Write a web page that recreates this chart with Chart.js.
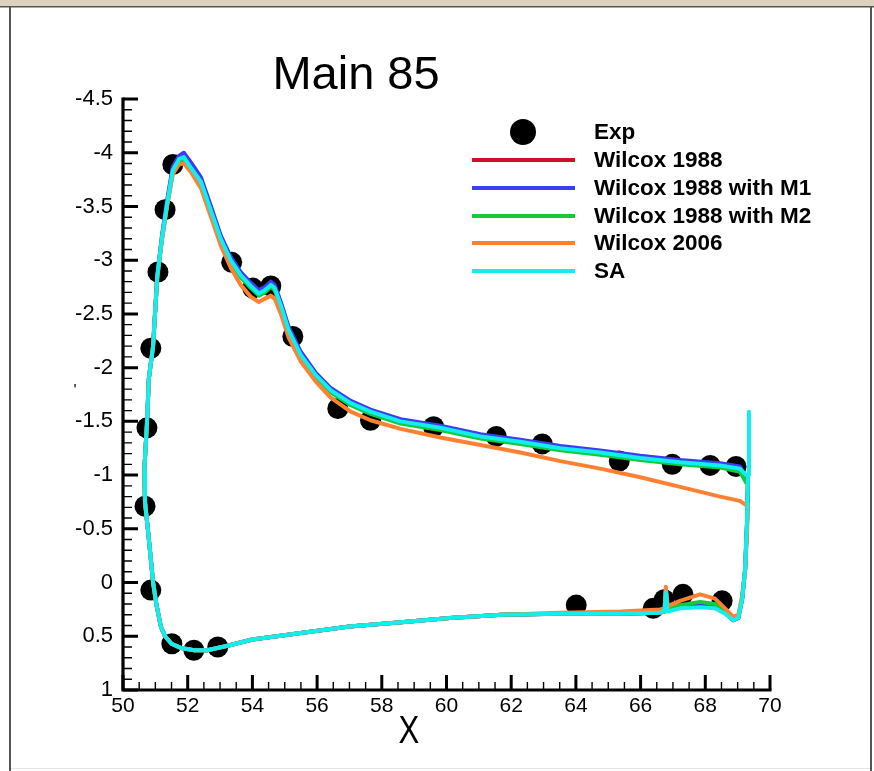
<!DOCTYPE html>
<html>
<head>
<meta charset="utf-8">
<title>Main 85</title>
<script src="https://cdn.jsdelivr.net/npm/chart.js@4.4.0/dist/chart.umd.min.js"></script>
<style>
  html, body { margin: 0; padding: 0; background: #fff; }
  canvas { display: block; }
</style>
</head>
<body>
<canvas id="cpChart" width="874" height="771"></canvas>
<script>
// surface path: trailing edge -> upper surface -> leading edge -> lower surface -> trailing edge
const xPath = [
  69.26, 69.07, 68.46, 67.22, 65.99, 64.75, 63.52, 62.28, 61.05, 59.81,
  58.58, 57.65, 57.04, 56.42, 55.96, 55.49, 55.12, 54.88, 54.69, 54.57,
  54.38, 54.20, 53.95, 53.64, 53.33, 53.02, 52.72, 52.41, 52.10, 51.88,
  51.73, 51.54, 51.36, 51.20, 51.06, 50.93, 50.80, 50.74, 50.66,
  50.68, 50.77, 50.85, 50.93, 51.03, 51.17, 51.30, 51.50, 51.80, 52.20,
  52.60, 53.20, 54.00, 55.50, 57.00, 58.60, 60.10, 61.70, 63.50, 65.40,
  66.60, 66.74, 66.78, 66.84, 67.22, 67.84, 68.30, 68.61, 68.86, 69.02,
  69.14, 69.23, 69.29, 69.32
];

const yWilcox1988 = [
  -0.97, -1.07, -1.10, -1.13, -1.17, -1.22, -1.26, -1.32, -1.37, -1.45,
  -1.51, -1.60, -1.68, -1.80, -1.94, -2.13, -2.36, -2.59, -2.75, -2.78,
  -2.73, -2.70, -2.77, -2.87, -3.01, -3.21, -3.47, -3.74, -3.88, -3.98,
  -3.95, -3.85, -3.53, -3.20, -2.85, -2.20, -1.90, -1.48, -1.05,
  -0.75, -0.49, -0.25, 0.00, 0.20, 0.41, 0.50, 0.57, 0.61, 0.63,
  0.63, 0.59, 0.53, 0.47, 0.41, 0.37, 0.33, 0.30, 0.29, 0.29,
  0.28, 0.27, 0.08, 0.26, 0.22, 0.20, 0.22, 0.28, 0.35, 0.33,
  0.15, -0.12, -0.55, -0.97
];

const yWilcoxM1 = [
  -0.98, -1.08, -1.11, -1.14, -1.18, -1.23, -1.27, -1.33, -1.38, -1.46,
  -1.52, -1.61, -1.69, -1.81, -1.95, -2.15, -2.38, -2.61, -2.77, -2.80,
  -2.75, -2.72, -2.79, -2.89, -3.03, -3.23, -3.50, -3.77, -3.91, -4.00,
  -3.97, -3.87, -3.55, -3.22, -2.86, -2.21, -1.90, -1.48, -1.05,
  -0.75, -0.49, -0.25, 0.00, 0.20, 0.41, 0.50, 0.57, 0.61, 0.63,
  0.63, 0.59, 0.53, 0.47, 0.41, 0.37, 0.33, 0.30, 0.29, 0.29,
  0.28, 0.27, 0.08, 0.26, 0.22, 0.20, 0.22, 0.28, 0.35, 0.33,
  0.15, -0.12, -0.55, -0.98
];

const yWilcoxM2 = [
  -0.93, -1.03, -1.07, -1.10, -1.14, -1.19, -1.23, -1.29, -1.34, -1.42,
  -1.48, -1.57, -1.65, -1.77, -1.91, -2.10, -2.33, -2.56, -2.72, -2.75,
  -2.70, -2.67, -2.74, -2.84, -2.98, -3.18, -3.44, -3.71, -3.84, -3.94,
  -3.92, -3.82, -3.50, -3.18, -2.84, -2.20, -1.90, -1.48, -1.05,
  -0.75, -0.49, -0.25, 0.00, 0.20, 0.41, 0.50, 0.57, 0.61, 0.63,
  0.63, 0.59, 0.53, 0.47, 0.41, 0.37, 0.33, 0.30, 0.29, 0.29,
  0.28, 0.27, 0.07, 0.25, 0.21, 0.18, 0.20, 0.27, 0.35, 0.33,
  0.15, -0.12, -0.55, -0.93
];

const yWilcox2006 = [
  -0.72, -0.76, -0.80, -0.89, -0.98, -1.06, -1.13, -1.21, -1.28, -1.35,
  -1.43, -1.51, -1.59, -1.72, -1.87, -2.06, -2.28, -2.50, -2.64, -2.67,
  -2.64, -2.61, -2.66, -2.77, -2.93, -3.14, -3.40, -3.67, -3.82, -3.90,
  -3.89, -3.80, -3.50, -3.18, -2.84, -2.20, -1.90, -1.48, -1.05,
  -0.75, -0.49, -0.25, 0.00, 0.20, 0.41, 0.50, 0.57, 0.61, 0.63,
  0.63, 0.59, 0.53, 0.47, 0.41, 0.37, 0.33, 0.30, 0.28, 0.27,
  0.25, 0.24, 0.04, 0.22, 0.17, 0.11, 0.15, 0.24, 0.32, 0.30,
  0.12, -0.10, -0.45, -0.72
];

const ySA = [
  -1.00, -1.06, -1.09, -1.12, -1.16, -1.21, -1.25, -1.31, -1.36, -1.44,
  -1.50, -1.59, -1.67, -1.79, -1.93, -2.12, -2.35, -2.58, -2.74, -2.77,
  -2.72, -2.69, -2.76, -2.86, -3.00, -3.20, -3.46, -3.73, -3.86, -3.96,
  -3.94, -3.84, -3.52, -3.20, -2.85, -2.20, -1.90, -1.48, -1.05,
  -0.75, -0.49, -0.25, 0.00, 0.20, 0.41, 0.50, 0.57, 0.61, 0.63,
  0.63, 0.59, 0.53, 0.47, 0.41, 0.37, 0.33, 0.30, 0.29, 0.29,
  0.28, 0.27, 0.09, 0.27, 0.24, 0.23, 0.24, 0.29, 0.35, 0.33,
  0.15, -0.12, -0.58, -1.00
];
// SA overshoot at the trailing edge
const saTailX = [69.35];
const saTailY = [-1.59];

// measured pressure taps
const expX = [
  51.54, 51.30, 51.08, 50.86, 50.74, 50.68, 50.86, 51.51, 52.19, 52.93,
  53.36, 54.01, 54.57, 55.25, 56.64, 57.65, 59.60, 61.54, 62.96, 65.34,
  66.98, 68.15, 68.95, 64.01, 66.39, 66.73, 67.31, 68.52
];
const expY = [
  -3.89, -3.47, -2.89, -2.18, -1.44, -0.71, 0.07, 0.57, 0.63, 0.60,
  -2.98, -2.74, -2.76, -2.29, -1.62, -1.51, -1.45, -1.36, -1.29, -1.13,
  -1.10, -1.09, -1.08, 0.21, 0.24, 0.16, 0.11, 0.17
];

const xTicks = [50, 52, 54, 56, 58, 60, 62, 64, 66, 68, 70];
const yTicks = [-4.5, -4, -3.5, -3, -2.5, -2, -1.5, -1, -0.5, 0, 0.5, 1];

const FONT = '"Liberation Sans", Arial, Helvetica, sans-serif';

function pts(xs, ys) {
  return xs.map((x, i) => ({ x: x, y: ys[i] }));
}

function curve(label, color, ys, order) {
  return {
    label: label,
    data: pts(xPath, ys),
    showLine: true,
    borderColor: color,
    backgroundColor: color,
    borderWidth: 4,
    pointRadius: 0,
    tension: 0,
    borderJoinStyle: 'round',
    borderCapStyle: 'round',
    order: order
  };
}

const saCurve = curve('SA', '#12eeee', ySA, 1);
saCurve.data = saCurve.data.concat(pts(saTailX, saTailY));

const datasets = [
  {
    label: 'Exp',
    data: pts(expX, expY),
    showLine: false,
    pointRadius: 10.5,
    pointBorderWidth: 0,
    backgroundColor: '#000',
    borderColor: '#000',
    order: 6
  },
  curve('Wilcox 1988', '#d0102a', yWilcox1988, 5),
  curve('Wilcox 1988 with M1', '#3c3cf0', yWilcoxM1, 4),
  curve('Wilcox 1988 with M2', '#16c83c', yWilcoxM2, 3),
  curve('Wilcox 2006', '#ff8030', yWilcox2006, 2),
  saCurve
];

// frame, inward ticks, title and legend
const decor = {
  id: 'decor',
  beforeDraw(chart) {
    const { ctx, width, height } = chart;
    ctx.save();
    ctx.fillStyle = '#fff';
    ctx.fillRect(0, 0, width, height);
    ctx.fillStyle = '#dcd3be';
    ctx.fillRect(0, 0, width, 6);
    ctx.fillStyle = '#555';
    ctx.fillRect(0, 6, width, 1.5);
    ctx.fillRect(9, 6, 2, height - 6);
    ctx.fillRect(870, 6, 2, height - 6);
    ctx.fillStyle = '#e4e4e4';
    ctx.fillRect(11, 768, 859, 1);
    ctx.restore();
  },
  afterDraw(chart) {
    const { ctx, chartArea } = chart;
    const xs = chart.scales.x, ys = chart.scales.y;
    const left = chartArea.left, bottom = chartArea.bottom;
    ctx.save();
    ctx.strokeStyle = '#000';
    ctx.lineCap = 'butt';

    // minor ticks
    ctx.lineWidth = 1.4;
    ctx.beginPath();
    for (let v = 50.5; v < 70; v += 0.5) {
      const px = xs.getPixelForValue(v);
      ctx.moveTo(px, bottom);
      ctx.lineTo(px, bottom - 8);
    }
    for (let v = -4.4; v < 1; v += 0.1) {
      const py = ys.getPixelForValue(v);
      ctx.moveTo(left, py);
      ctx.lineTo(left + 9, py);
    }
    ctx.stroke();

    // major ticks
    ctx.lineWidth = 3;
    ctx.beginPath();
    xTicks.forEach(v => {
      const px = xs.getPixelForValue(v);
      ctx.moveTo(px, bottom);
      ctx.lineTo(px, bottom - 15);
    });
    yTicks.forEach(v => {
      const py = ys.getPixelForValue(v);
      ctx.moveTo(left, py);
      ctx.lineTo(left + 15, py);
    });
    ctx.stroke();

    // axis lines
    ctx.lineWidth = 3.2;
    ctx.beginPath();
    ctx.moveTo(left, ys.getPixelForValue(-4.5) - 1.5);
    ctx.lineTo(left, bottom);
    ctx.lineTo(xs.getPixelForValue(70) + 1.5, bottom);
    ctx.stroke();

    // title and axis label
    ctx.fillStyle = '#000';
    ctx.textAlign = 'center';
    ctx.textBaseline = 'middle';
    ctx.font = '47px ' + FONT;
    ctx.fillText('Main 85', 356, 76);
    ctx.save();
    ctx.translate(409, 733);
    ctx.scale(0.82, 1);
    ctx.font = '38px ' + FONT;
    ctx.fillText('X', 0, 0);
    ctx.restore();
    ctx.font = '16px ' + FONT;
    ctx.fillText('\'', 75, 392);

    // legend
    const rowY = [132, 160, 188, 216, 243, 271];
    ctx.textAlign = 'left';
    ctx.font = 'bold 22.5px ' + FONT;
    chart.data.datasets.forEach((ds, i) => {
      const y = rowY[i];
      if (ds.showLine) {
        ctx.strokeStyle = ds.borderColor;
        ctx.lineWidth = 4;
        ctx.beginPath();
        ctx.moveTo(472, y);
        ctx.lineTo(575, y);
        ctx.stroke();
      } else {
        ctx.fillStyle = ds.backgroundColor;
        ctx.beginPath();
        ctx.arc(523, y, 13, 0, Math.PI * 2);
        ctx.fill();
      }
      ctx.fillStyle = '#000';
      ctx.fillText(ds.label, 594, y + 1);
    });
    ctx.restore();
  }
};

new Chart(document.getElementById('cpChart'), {
  type: 'scatter',
  data: { datasets: datasets },
  options: {
    responsive: false,
    animation: false,
    events: [],
    layout: { padding: { left: 0, top: 99, right: 104, bottom: 0 } },
    plugins: {
      legend: { display: false },
      tooltip: { enabled: false },
      title: { display: false }
    },
    scales: {
      x: {
        type: 'linear',
        min: 50,
        max: 70,
        afterBuildTicks: s => { s.ticks = xTicks.map(v => ({ value: v })); },
        afterFit: s => { s.height = 81; },
        grid: { display: false, drawTicks: false },
        border: { display: false },
        ticks: {
          color: '#000',
          padding: 4,
          maxRotation: 0,
          autoSkip: false,
          font: { family: FONT, size: 21 },
          callback: v => String(v)
        }
      },
      y: {
        type: 'linear',
        reverse: true,
        min: -4.5,
        max: 1,
        afterBuildTicks: s => { s.ticks = yTicks.map(v => ({ value: v })); },
        afterFit: s => { s.width = 123; },
        grid: { display: false, drawTicks: false },
        border: { display: false },
        ticks: {
          color: '#000',
          padding: 10,
          autoSkip: false,
          font: { family: FONT, size: 22 },
          callback: v => String(v)
        }
      }
    }
  },
  plugins: [decor]
});
</script>
</body>
</html>
